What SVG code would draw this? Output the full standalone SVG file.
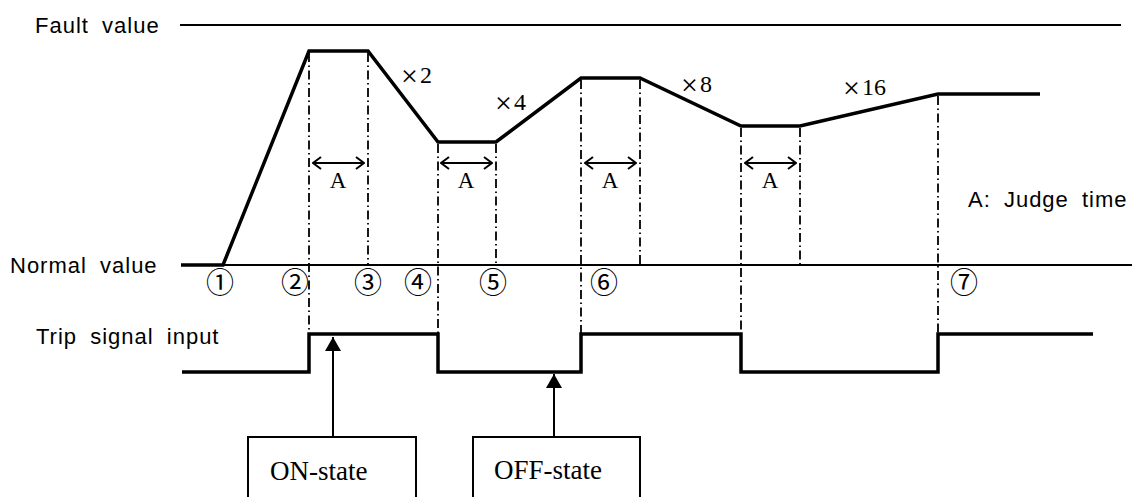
<svg xmlns="http://www.w3.org/2000/svg" width="1132" height="497" viewBox="0 0 1132 497">
<defs>
<style>
.sans{font-family:"Liberation Sans",Arial,sans-serif;font-size:22px;letter-spacing:1px;word-spacing:6px;fill:#000}
.serif{font-family:"Liberation Serif","Times New Roman",serif;fill:#000}
.circ{font-family:"Noto Sans CJK JP",sans-serif;font-size:28px;fill:#000;text-anchor:middle}
.thick{fill:none;stroke:#000;stroke-width:3.5;stroke-linejoin:miter}
.thin{fill:none;stroke:#000;stroke-width:2}
.dd{fill:none;stroke:#000;stroke-width:1.8;stroke-dasharray:9 3.5 1.5 3.5}
.box{fill:#fff;stroke:#000;stroke-width:2}
.arr{fill:none;stroke:#000;stroke-width:2}
.x{font-size:30px}
</style>
<marker id="chev" viewBox="0 0 10 14" refX="9" refY="7" markerWidth="10" markerHeight="14" markerUnits="userSpaceOnUse" orient="auto-start-reverse">
<path d="M1,1 L9,7 L1,13" fill="none" stroke="#000" stroke-width="2"/>
</marker>
<marker id="tri" viewBox="0 0 14 16" refX="14" refY="8" markerWidth="14" markerHeight="16" markerUnits="userSpaceOnUse" orient="auto">
<path d="M0,0 L14,8 L0,16 Z" fill="#000"/>
</marker>
</defs>

<g id="labels">
<text class="sans" x="35" y="33">Fault value</text>
<text class="sans" x="10" y="273">Normal value</text>
<text class="sans" x="36" y="344">Trip signal input</text>
<text class="sans" x="968" y="207">A: Judge time</text>
</g>

<g id="axes">
<line class="thin" x1="180" y1="25" x2="1121" y2="25"/>
<line class="thin" x1="181" y1="265" x2="1132" y2="265"/>
</g>

<g id="connectors">
<g id="guides">
<line class="dd" x1="309" y1="53" x2="309" y2="334"/>
<line class="dd" x1="368" y1="53" x2="368" y2="265"/>
<line class="dd" x1="438" y1="144" x2="438" y2="334"/>
<line class="dd" x1="496" y1="144" x2="496" y2="265"/>
<line class="dd" x1="581" y1="80" x2="581" y2="334"/>
<line class="dd" x1="640" y1="80" x2="640" y2="265"/>
<line class="dd" x1="741" y1="128" x2="741" y2="334"/>
<line class="dd" x1="800" y1="128" x2="800" y2="265"/>
<line class="dd" x1="938" y1="96" x2="938" y2="334"/>
</g>
<g id="judge-arrows">
<line class="arr" x1="313" y1="163" x2="364" y2="163" marker-start="url(#chev)" marker-end="url(#chev)"/>
<line class="arr" x1="441" y1="163" x2="492" y2="163" marker-start="url(#chev)" marker-end="url(#chev)"/>
<line class="arr" x1="585" y1="163" x2="636" y2="163" marker-start="url(#chev)" marker-end="url(#chev)"/>
<line class="arr" x1="745" y1="163" x2="796" y2="163" marker-start="url(#chev)" marker-end="url(#chev)"/>
</g>
<line class="arr" x1="333" y1="437" x2="333" y2="337" marker-end="url(#tri)"/>
<line class="arr" x1="554" y1="437" x2="554" y2="374" marker-end="url(#tri)"/>
</g>

<g id="fault-curve">
<polyline class="thick" points="181,265 223,265 309,51 368,51 438,142 496,142 581,78 640,78 741,126 800,126 938,94 1040,94"/>
</g>

<g id="trip-signal">
<polyline class="thick" points="182,372 309,372 309,334 438,334 438,372 581,372 581,334 741,334 741,372 938,372 938,334 1093,334"/>
</g>

<g id="judge-labels" class="serif" font-size="23" text-anchor="middle">
<text x="338" y="188">A</text>
<text x="466" y="188">A</text>
<text x="610" y="188">A</text>
<text x="770" y="188">A</text>
</g>

<g id="multipliers" class="serif" font-size="24">
<text x="401" y="83"><tspan class="x" dy="3">×</tspan><tspan dy="-3" dx="2">2</tspan></text>
<text x="495" y="110"><tspan class="x" dy="3">×</tspan><tspan dy="-3" dx="2">4</tspan></text>
<text x="681" y="92"><tspan class="x" dy="3">×</tspan><tspan dy="-3" dx="2">8</tspan></text>
<text x="843" y="95"><tspan class="x" dy="3">×</tspan><tspan dy="-3" dx="2">16</tspan></text>
</g>

<g id="points">
<text class="circ" x="220" y="293">①</text>
<text class="circ" x="295" y="293">②</text>
<text class="circ" x="368" y="293">③</text>
<text class="circ" x="418" y="293">④</text>
<text class="circ" x="493" y="293">⑤</text>
<text class="circ" x="604" y="293">⑥</text>
<text class="circ" x="964" y="293">⑦</text>
</g>

<g id="on-state">
<rect class="box" x="248" y="437" width="168" height="80"/>
<text class="serif" font-size="27" x="270" y="480">ON-state</text>
</g>

<g id="off-state">
<rect class="box" x="473" y="437" width="167" height="80"/>
<text class="serif" font-size="27" x="494" y="479">OFF-state</text>
</g>
</svg>
